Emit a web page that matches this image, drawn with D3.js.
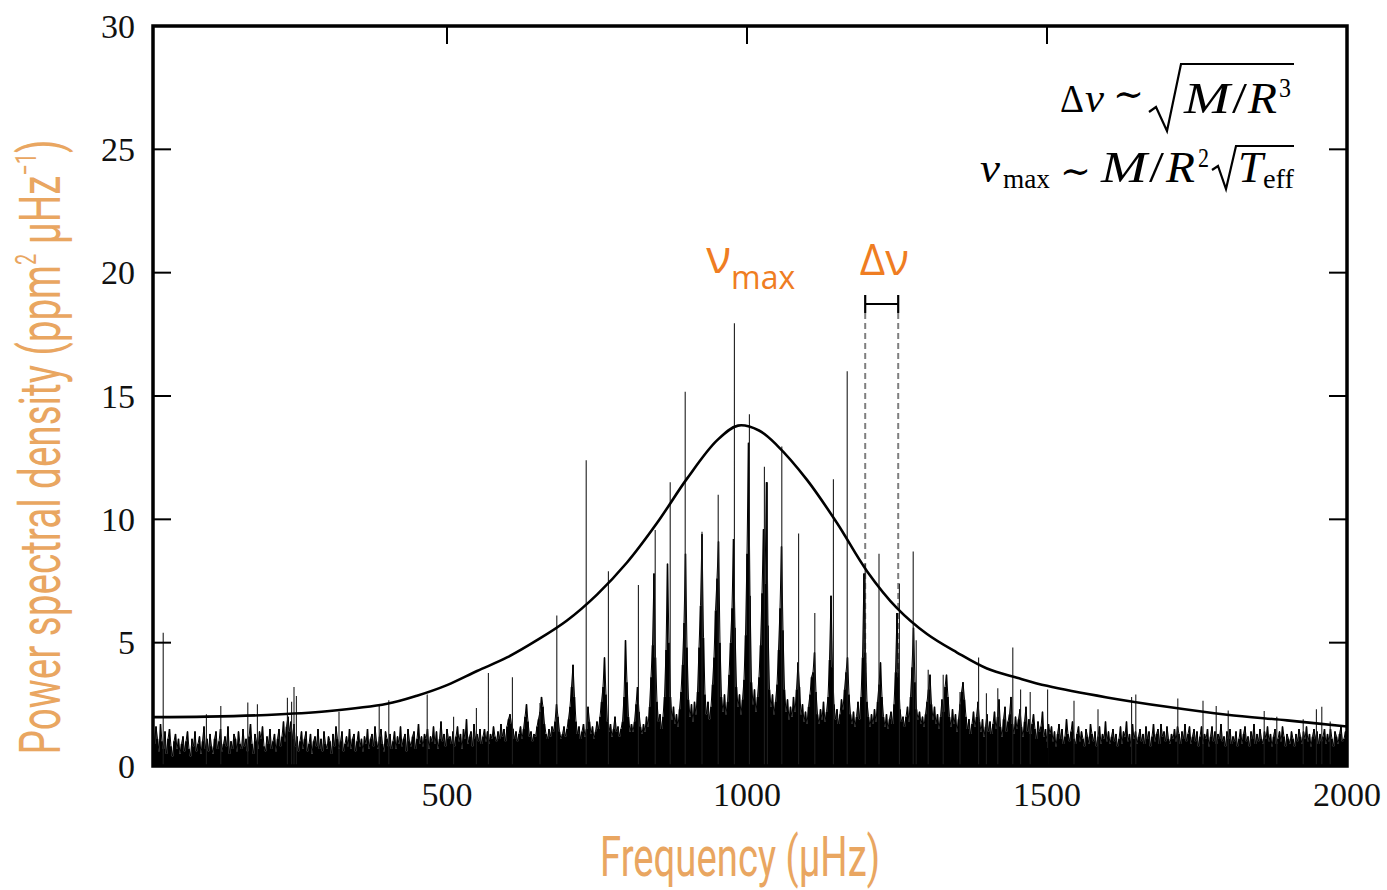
<!DOCTYPE html>
<html><head><meta charset="utf-8">
<script src="https://cdn.jsdelivr.net/npm/d3@7"></script>
<style>body{margin:0;background:#fff}</style>
</head><body>
<svg id="chart" width="1387" height="890"></svg>
<script>
// ---------- data ----------
const xTicks = [500, 1000, 1500, 2000];
const yTicks = [0, 5, 10, 15, 20, 25, 30];

// dense power spectrum, sampled every 2.5 µHz starting at 10 µHz (each row = 50 µHz)
const psdStart = 10, psdStep = 2.5;
const psd = [
/*  10 */ 1.9,0.9,1.6,1.1,0.6,1.7,1.0,0.7,1.4,0.5,1.1,1.5,0.8,0.4,1.0,1.3,0.7,1.1,0.5,0.9,
/*  60 */ 1.2,0.6,1.0,1.4,0.7,0.4,1.1,0.8,1.4,0.6,0.9,1.2,0.5,1.0,1.6,0.7,1.1,0.6,1.3,0.8,
/* 110 */ 0.5,1.1,1.4,0.7,1.0,1.5,0.6,0.9,1.2,0.8,1.6,0.5,1.0,0.7,1.3,1.1,0.6,1.4,0.9,0.7,
/* 160 */ 1.5,0.8,1.1,0.6,1.2,1.7,0.9,0.5,1.3,1.0,0.7,1.4,1.1,1.6,0.8,0.6,1.2,0.9,1.5,0.7,
/* 210 */ 1.0,1.3,0.6,1.1,1.5,0.8,1.2,1.8,1.0,1.6,2.0,1.4,1.8,1.1,1.7,0.8,1.2,0.6,1.0,1.4,
/* 260 */ 0.7,1.1,1.4,0.6,0.9,1.3,0.5,1.0,1.2,0.8,1.5,0.7,1.1,0.6,1.4,0.9,0.7,1.2,1.0,0.5,
/* 310 */ 1.3,0.8,1.6,1.1,0.7,1.0,1.4,0.6,0.9,1.2,0.8,1.5,0.7,1.1,1.3,0.6,1.0,1.4,0.8,1.1,
/* 360 */ 0.6,1.2,0.9,1.5,0.7,1.1,1.3,0.8,1.6,1.0,0.7,1.2,1.5,0.9,0.6,1.4,1.1,0.8,1.3,0.7,
/* 410 */ 1.0,1.4,0.7,1.2,0.9,1.6,0.8,1.1,1.3,0.6,1.5,1.0,0.8,1.2,1.4,0.7,1.1,1.7,0.9,1.2,
/* 460 */ 0.8,1.3,1.1,1.5,0.7,1.2,1.0,1.6,0.9,1.4,0.7,1.1,1.8,1.0,1.3,0.8,1.5,1.1,1.2,0.9,
/* 510 */ 1.4,0.8,1.2,1.6,1.0,1.3,0.7,1.5,1.1,1.9,0.9,1.2,1.4,0.8,1.7,1.1,1.3,1.0,1.5,0.9,
/* 560 */ 1.2,1.5,1.0,1.4,0.9,1.3,1.1,1.6,1.2,1.0,1.4,1.1,1.7,1.2,1.5,1.0,1.6,1.9,2.1,1.7,
/* 610 */ 1.5,1.1,1.4,1.0,1.3,1.6,1.1,1.5,2.0,2.5,1.8,1.2,1.4,1.0,1.3,1.2,1.6,1.9,2.2,2.8,
/* 660 */ 2.4,1.7,1.3,1.1,1.5,1.2,1.6,1.4,1.8,2.5,2.0,1.4,1.1,1.3,1.6,1.2,1.5,1.9,2.4,3.2,
/* 710 */ 4.1,2.8,1.8,1.3,1.6,1.1,1.4,1.7,1.2,1.5,2.4,1.8,1.3,1.6,1.1,1.4,1.8,1.5,2.0,2.6,
/* 760 */ 3.2,4.4,2.9,1.8,1.4,1.7,1.2,1.5,2.0,1.4,1.6,1.2,1.5,1.8,2.8,5.1,3.4,2.0,1.4,1.7,
/* 810 */ 1.4,1.8,2.5,3.2,2.2,1.6,1.3,1.7,1.4,2.0,1.6,2.4,3.6,4.9,7.8,4.4,2.6,1.8,2.1,1.5,
/* 860 */ 2.0,2.8,4.7,8.2,5.0,2.8,1.9,2.4,1.7,2.1,1.6,2.3,3.0,4.1,5.8,8.6,4.8,2.7,2.0,2.5,
/* 910 */ 1.8,2.6,2.1,3.0,4.8,6.5,9.4,5.2,2.9,2.1,2.6,1.9,2.4,3.3,4.4,6.3,7.6,9.1,5.0,2.8,
/* 960 */ 2.2,2.9,2.1,2.6,3.7,5.0,6.4,9.2,5.6,3.2,2.4,2.9,2.1,2.7,3.5,5.3,8.6,13.1,6.9,3.4,
/*1010 */ 2.5,3.1,2.2,2.8,3.6,4.9,7.0,9.6,7.4,11.5,5.7,3.1,2.4,2.9,2.1,2.6,3.3,4.7,6.4,8.9,
/*1060 */ 5.5,3.1,2.2,2.7,1.9,2.4,2.0,2.8,2.2,3.1,4.2,3.2,2.1,2.5,1.8,2.2,1.7,2.4,2.9,3.6,
/*1110 */ 3.8,4.6,3.0,2.1,1.7,2.3,1.9,2.6,1.8,2.2,2.8,4.3,6.9,4.0,2.5,1.9,2.3,1.7,2.1,2.7,
/*1160 */ 2.3,3.1,3.8,4.4,2.9,2.1,1.7,2.2,1.6,2.0,2.6,1.9,2.8,4.4,7.8,4.6,2.6,2.0,1.6,2.1,
/*1210 */ 1.7,2.3,1.8,2.6,3.3,4.2,2.8,2.0,1.6,2.1,1.5,1.9,2.2,1.7,2.5,3.8,6.2,3.6,2.3,1.8,
/*1260 */ 2.0,1.6,2.0,2.4,1.8,2.8,4.0,5.6,3.4,2.3,1.9,2.2,1.7,2.0,1.6,2.1,2.6,3.1,3.7,2.5,
/*1310 */ 1.9,2.4,1.7,2.1,1.5,2.0,2.7,2.2,3.2,3.7,2.8,2.0,1.6,2.3,1.7,2.1,1.4,1.9,2.5,3.0,
/*1360 */ 3.4,2.7,2.0,1.5,1.9,1.3,1.7,2.2,1.6,2.0,2.6,1.8,1.4,1.9,1.2,1.6,2.1,1.4,1.8,1.3,
/*1410 */ 1.7,2.2,1.5,2.0,2.7,1.6,1.2,1.9,2.4,1.4,1.8,2.1,2.8,1.7,1.3,2.0,1.5,1.9,2.3,1.6,
/*1460 */ 1.2,1.8,2.4,1.4,1.9,1.3,1.7,2.1,1.5,1.1,1.8,1.4,1.6,2.2,1.2,1.5,1.0,1.7,1.3,1.6,
/*1510 */ 1.0,1.4,0.8,1.3,1.7,1.1,1.5,0.9,1.2,1.9,1.3,1.0,1.4,1.8,1.1,0.9,1.3,1.6,1.0,1.4,
/*1560 */ 1.1,0.8,1.5,1.2,0.9,1.7,1.3,1.0,1.4,0.8,1.2,1.6,0.9,1.3,1.1,1.8,1.0,1.4,0.9,1.2,
/*1610 */ 1.5,1.0,1.3,0.8,1.1,1.6,0.9,1.4,1.2,1.8,1.0,1.3,0.8,1.7,1.1,1.4,0.9,1.2,1.5,1.0,
/*1660 */ 1.3,0.9,1.6,1.1,1.4,0.8,1.2,1.7,1.0,1.3,1.5,0.9,1.7,1.2,1.4,1.0,1.6,1.1,0.9,1.3,
/*1710 */ 1.1,1.5,1.0,1.6,1.3,0.9,1.4,1.1,1.7,1.0,1.3,1.6,0.9,1.2,1.5,1.0,1.4,0.8,1.2,1.6,
/*1760 */ 0.9,1.3,1.1,1.5,0.8,1.2,1.6,1.0,1.4,0.9,1.3,1.1,1.7,1.0,1.2,0.8,1.4,1.1,1.5,0.9,
/*1810 */ 1.2,1.0,1.4,0.8,1.1,1.5,0.9,1.3,1.6,1.0,1.2,0.8,1.4,1.1,1.7,0.9,1.3,1.0,1.5,1.1,
/*1860 */ 0.9,1.4,1.1,1.6,1.0,1.3,0.8,1.2,1.5,0.9,1.1,1.4,1.0,1.6,1.2,0.8,1.3,1.1,0.9,1.4,
/*1910 */ 1.1,0.8,1.3,1.0,1.5,1.2,0.9,1.4,1.1,1.6,1.0,1.3,0.8,1.2,1.5,1.1,1.4,0.9,1.3,1.0,
/*1960 */ 1.2,1.5,0.9,1.3,1.0,1.5,1.1,0.8,1.4,1.2,0.9,1.3,1.6,1.0,1.1,1.4,0.9
];

// tall, narrow individual peaks
const spikeFreq  = [27,99,123,168,184,234,241,245,249,320,387,403,467,511,549,569,609,655,683,732,769,819,847,872,897,925,952,979,1004,1029,1034,1058,1086,1113,1144,1167,1197,1220,1254,1277,1282,1302,1327,1355,1386,1399,1418,1443,1456,1472,1501,1545,1585,1641,1648,1718,1760,1782,1802,1862,1883,1927,1949,1958,1972];
const spikePower = [5.4,2.1,2.43,2.57,2.5,2.77,2.6,3.2,2.84,2.2,2.43,2.67,2.9,2.0,2.35,3.77,3.6,2.55,6.1,12.4,7.9,7.34,9.57,11.5,15.17,9.5,11.0,17.95,14.26,12.13,11.5,12.95,9.43,6.2,11.63,16.0,8.2,8.6,7.4,8.7,5.1,3.9,3.7,3.0,4.4,2.95,3.15,4.8,3.1,3.0,3.1,2.65,2.3,2.8,2.9,2.74,2.65,2.43,2.25,2.23,2.0,1.9,2.3,2.4,1.8];

// smooth envelope fit
const fitFreq  = [10,100,200,300,400,450,500,550,600,650,700,750,800,850,900,950,985,1020,1050,1100,1150,1200,1250,1300,1350,1400,1450,1500,1600,1700,1800,1900,2000];
const fitPower = [1.98,2.0,2.07,2.22,2.52,2.85,3.28,3.85,4.4,5.1,5.9,6.95,8.25,9.85,11.65,13.2,13.8,13.6,13.0,11.6,9.85,7.9,6.4,5.35,4.6,3.95,3.58,3.25,2.78,2.4,2.08,1.85,1.6];

// annotations (frequency, power)
const numaxLabel = [932, 19.97];
const deltaNuLabel = [1188, 19.9];
const deltaNuRange = [1197, 1252];
const deltaNuBarPower = 18.73;

// ---------- chart ----------
const svg = d3.select('#chart');
const L = 153, R = 1347, T = 26, B = 766;
const x = d3.scaleLinear().domain([10, 2000]).range([L, R]);
const y = d3.scaleLinear().domain([0, 30]).range([B, T]);

svg.append('defs').append('clipPath').attr('id', 'clip')
  .append('rect').attr('x', L).attr('y', T).attr('width', R - L).attr('height', B - T);
const plot = svg.append('g').attr('clip-path', 'url(#clip)');

// dashed Δν guides
plot.selectAll('line.guide').data(deltaNuRange).enter().append('line')
  .attr('x1', d => x(d)).attr('x2', d => x(d))
  .attr('y1', y(deltaNuBarPower) + 9).attr('y2', B)
  .attr('stroke', '#7f7f7f').attr('stroke-width', 2).attr('stroke-dasharray', '6,4');

// dense spectrum as stems plus a line through the samples
const stemPath = psd.map((v, i) => {
  const xx = x(psdStart + i * psdStep);
  return `M${xx},${y(0)}V${y(v)}`;
}).join('');
plot.append('path').attr('d', stemPath).attr('stroke', '#000').attr('stroke-width', 1.6).attr('fill', 'none');
const psdLine = d3.line().x((d, i) => x(psdStart + i * psdStep)).y(d => y(d));
plot.append('path').attr('d', psdLine(psd)).attr('stroke', '#000').attr('stroke-width', 1).attr('fill', 'none');

// spikes
const spikePath = spikeFreq.map((f, i) => `M${x(f)},${y(0)}V${y(spikePower[i])}`).join('');
plot.append('path').attr('d', spikePath).attr('stroke', '#1e1e1e').attr('stroke-width', 1.1).attr('fill', 'none');

// fit curve
const line = d3.line().x((d, i) => x(fitFreq[i])).y(d => y(d)).curve(d3.curveCatmullRom.alpha(0.5));
plot.append('path').attr('d', line(fitPower)).attr('fill', 'none').attr('stroke', '#000').attr('stroke-width', 2.6);

// frame
svg.append('rect').attr('x', L).attr('y', T).attr('width', R - L).attr('height', B - T)
  .attr('fill', 'none').attr('stroke', '#000').attr('stroke-width', 3.5);

// ticks (inward, all four sides)
const tk = 18;
const ticksG = svg.append('g').attr('stroke', '#000').attr('stroke-width', 2);
xTicks.forEach(t => {
  ticksG.append('line').attr('x1', x(t)).attr('x2', x(t)).attr('y1', T).attr('y2', T + tk);
  ticksG.append('line').attr('x1', x(t)).attr('x2', x(t)).attr('y1', B).attr('y2', B - tk);
});
yTicks.forEach(t => {
  ticksG.append('line').attr('x1', L).attr('x2', L + tk).attr('y1', y(t)).attr('y2', y(t));
  ticksG.append('line').attr('x1', R).attr('x2', R - tk).attr('y1', y(t)).attr('y2', y(t));
});

// tick labels
const serif = "'Liberation Serif','DejaVu Serif',serif";
svg.append('g').selectAll('text').data(xTicks).enter().append('text')
  .attr('x', d => x(d)).attr('y', 806).attr('text-anchor', 'middle')
  .attr('font-family', serif).attr('font-size', 34).attr('fill', '#111').text(d => d);
svg.append('g').selectAll('text').data(yTicks).enter().append('text')
  .attr('x', 135).attr('y', d => y(d) + 11.5).attr('text-anchor', 'end')
  .attr('font-family', serif).attr('font-size', 34).attr('fill', '#111').text(d => d);

// axis titles (condensed look via horizontal scaling)
const titleColor = '#E9A661';
function fitText(g, width) {
  const w = g.node().getBBox().width;
  return width / w;
}
const xt = svg.append('text').attr('font-family', "Roboto, 'Open Sans', sans-serif").attr('font-size', 56)
  .attr('fill', titleColor).attr('text-anchor', 'middle').text('Frequency (µHz)');
const sx = fitText(xt, 280);
xt.attr('transform', `translate(740,876) scale(${sx},1)`);

const yt = svg.append('text').attr('font-family', "Roboto, 'Open Sans', sans-serif").attr('font-size', 58)
  .attr('fill', titleColor).attr('text-anchor', 'middle');
yt.append('tspan').text('Power spectral density (ppm');
yt.append('tspan').attr('font-size', 30).attr('dy', -24).text('2');
yt.append('tspan').attr('dy', 24).text(' µHz');
yt.append('tspan').attr('font-size', 30).attr('dy', -24).text('−1');
yt.append('tspan').attr('dy', 24).text(')');
const sy = fitText(yt, 615);
yt.attr('transform', `translate(60,447) rotate(-90) scale(${sy},1)`);

// νmax and Δν annotations
const orange = '#EF7D22';
const sans = "'Open Sans','DejaVu Sans',sans-serif";
const nm = svg.append('text').attr('x', x(numaxLabel[0])).attr('y', y(numaxLabel[1]))
  .attr('font-family', sans).attr('fill', orange).attr('font-size', 46);
nm.append('tspan').text('ν');
nm.append('tspan').attr('font-size', 32).attr('dy', 16).text('max');

svg.append('text').attr('x', x(deltaNuLabel[0])).attr('y', y(deltaNuLabel[1]))
  .attr('font-family', sans).attr('fill', orange).attr('font-size', 44).text('Δν');

// Δν bracket
const bg = svg.append('g').attr('stroke', '#000').attr('stroke-width', 2.2);
const by = y(deltaNuBarPower);
bg.append('line').attr('x1', x(deltaNuRange[0])).attr('x2', x(deltaNuRange[1])).attr('y1', by).attr('y2', by);
deltaNuRange.forEach(f => bg.append('line').attr('x1', x(f)).attr('x2', x(f)).attr('y1', by - 9).attr('y2', by + 9));

// scaling relations (top right)
const fg = svg.append('g').attr('fill', '#000');
function piece(txt, x0, base, size, italic, width, fam) {
  const t = fg.append('text').attr('x', x0).attr('y', base).attr('font-size', size)
    .attr('font-family', fam || serif).attr('font-style', italic ? 'italic' : 'normal').text(txt);
  if (width) t.attr('textLength', width).attr('lengthAdjust', 'spacingAndGlyphs');
  return t;
}
// line 1: Δν ∼ √(M/R³)
piece('Δ', 1060, 112, 40, false, 24);
piece('ν', 1085, 112, 40, true, 19);
piece('∼', 1113, 107, 38, false, 31, "'DejaVu Serif',serif");
piece('M', 1184, 113, 44, true, 46);
piece('/', 1232, 113, 44, false, 15);
piece('R', 1248, 113, 44, true, 29);
piece('3', 1279, 97, 27, false, 12);
fg.append('path').attr('d', 'M1149,112 L1156,107 L1167,131 L1181,64 L1294,64')
  .attr('fill', 'none').attr('stroke', '#000').attr('stroke-width', 2.2).attr('stroke-linejoin', 'miter');
// line 2: νmax ∼ M/R² √Teff
piece('ν', 980, 182, 40, true, 20);
piece('max', 1003, 188, 27, false, 47);
piece('∼', 1060, 184, 38, false, 31, "'DejaVu Serif',serif");
piece('M', 1101, 182, 44, true, 46);
piece('/', 1149, 182, 44, false, 15);
piece('R', 1166, 182, 44, true, 29);
piece('2', 1198, 167, 27, false, 11);
fg.append('path').attr('d', 'M1212,170 L1218,166 L1226,189 L1236,146 L1294,146')
  .attr('fill', 'none').attr('stroke', '#000').attr('stroke-width', 2.2);
piece('T', 1238, 182, 44, true, 25);
piece('eff', 1263, 188, 27, false, 31);
</script>
</body></html>
